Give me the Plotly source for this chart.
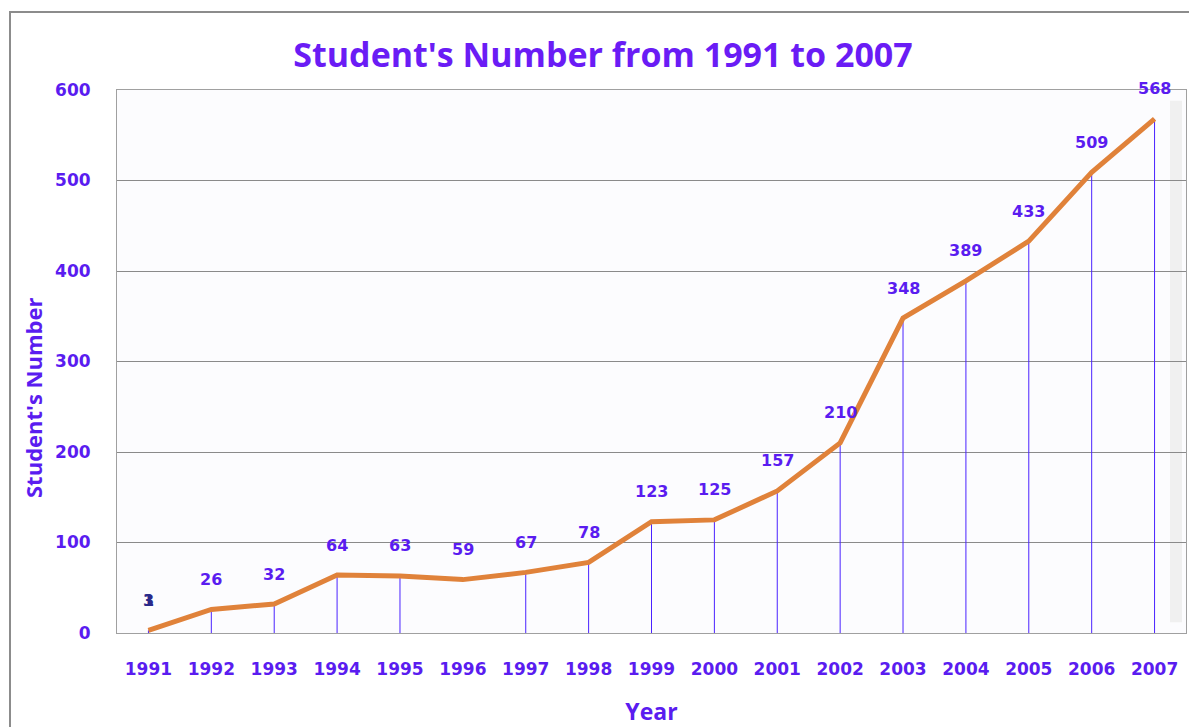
import plotly.graph_objects as go

years = ["1991", "1992", "1993", "1994", "1995", "1996", "1997", "1998", "1999",
         "2000", "2001", "2002", "2003", "2004", "2005", "2006", "2007"]
students = [3, 26, 32, 64, 63, 59, 67, 78, 123, 125, 157, 210, 348, 389, 433, 509, 568]
labels = ["3", "26", "32", "64", "63", "59", "67", "78", "123", "125", "157", "210",
          "348", "389", "433", "509", "568"]
no_drop_years = ["1996"]
y_ticks = [0, 100, 200, 300, 400, 500, 600]

TXT = "#5a1cf0"
drops = [0 if y in no_drop_years else v for y, v in zip(years, students)]

# page body has an 8px margin: figure starts at (8, 8)
OFF = 8
W, H = 1197 - OFF, 727 - OFF
L, R, T, B = 117 - OFF, 11, 90 - OFF, 94
PW, PH = W - L - R, H - T - B

fig = go.Figure()
fig.add_trace(go.Scatter(
    x=years, y=students, mode="markers", marker=dict(size=1, opacity=0),
    error_y=dict(type="data", symmetric=False, array=[0] * len(years),
                 arrayminus=drops, width=0, thickness=1, color="#4a22ff"),
    hoverinfo="skip", showlegend=False))
fig.add_trace(go.Scatter(
    x=years, y=students, mode="lines",
    line=dict(color="#e0823a", width=5), showlegend=False))

annos = []
for i, (v, t) in enumerate(zip(students, labels)):
    annos.append(dict(x=i, y=v, xref="x", yref="y", text=t, showarrow=False, yshift=30,
                      font=dict(family="DejaVu Sans", size=16, weight="bold",
                                color="#2a2a8a" if i == 0 else TXT)))
# overlapped second label at 1991
annos.append(dict(x=0, y=students[0], xref="x", yref="y", text="1", showarrow=False,
                  yshift=30,
                  font=dict(family="DejaVu Sans", size=16, weight="bold", color="#2a2a8a")))
# y-axis title (placed like the original, a bit below the plot centre)
annos.append(dict(x=(33 - 117) / PW, y=(633 - 398) / PH, xref="paper", yref="paper",
                  text="<b>Student's Number</b>", textangle=-90, showarrow=False,
                  xanchor="center", yanchor="middle",
                  font=dict(family="Open Sans", size=22, color=TXT)))

fig.update_layout(
    width=W, height=H,
    margin=dict(l=L, r=R, t=T, b=B, autoexpand=False),
    paper_bgcolor="white", plot_bgcolor="#fcfcfe",
    title=dict(text="<b>Student's Number from 1991 to 2007</b>",
               x=(603 - OFF) / W, xanchor="center", y=1 - (55 - OFF) / H, yanchor="middle",
               font=dict(family="Open Sans", size=34, color="#6a1cf5")),
    xaxis=dict(type="category", range=[-0.5, 16.5], showgrid=False, automargin=False,
               showline=True, linecolor="#a0a0a0", linewidth=1, mirror=True,
               ticks="", ticklabelstandoff=21,
               tickfont=dict(family="DejaVu Sans", size=17, weight="bold", color=TXT),
               title=dict(text="<b>Year</b>", standoff=32,
                          font=dict(family="Open Sans", size=23, color=TXT))),
    yaxis=dict(range=[0, 600], tickvals=y_ticks, showgrid=True, automargin=False,
               gridcolor="#8a8a8a", gridwidth=1, zeroline=False,
               showline=True, linecolor="#a0a0a0", linewidth=1, mirror=True,
               ticks="", ticklabelstandoff=22,
               tickfont=dict(family="DejaVu Sans", size=17, weight="bold", color=TXT)),
    annotations=annos,
    shapes=[dict(type="rect", xref="paper", yref="paper",
                 x0=(10 - 117) / PW, x1=1.2, y0=-0.3, y1=(633 - 12) / PH,
                 line=dict(color="#8c8c8c", width=2), layer="below"),
            dict(type="rect", xref="paper", yref="paper",
                 x0=1 - 16 / PW, x1=1 - 4 / PW, y0=0.02, y1=0.98,
                 fillcolor="#f0f0f0", line=dict(width=0), layer="below")],
)

fig.write_html("out.html")
